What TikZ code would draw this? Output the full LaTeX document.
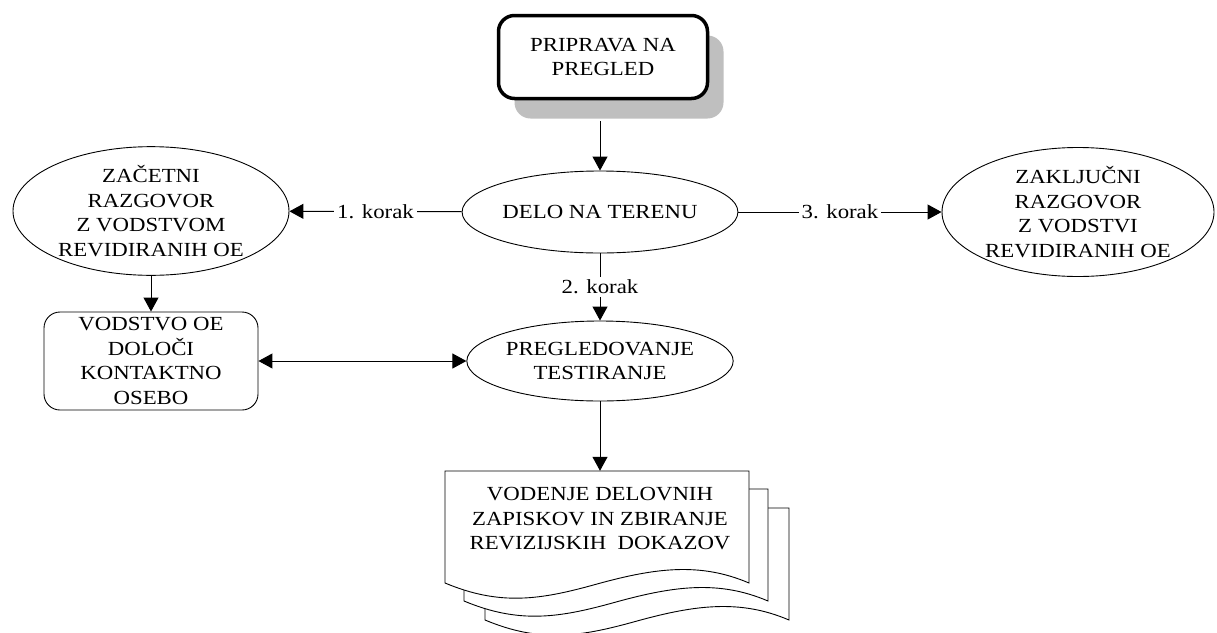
\documentclass[tikz,border=0pt]{standalone}
\usepackage{fontspec}
\setmainfont{Liberation Serif}[FakeStretch=1.14]
\usetikzlibrary{shapes.geometric, arrows.meta, shadows}
\tikzstyle{startbox} = [
    rectangle,
    rounded corners=16pt,
    minimum width=209pt,
    minimum height=83pt,
    line width=3.5pt,
    draw=black,
    fill=white,
    align=center,
    drop shadow={shadow xshift=16pt, shadow yshift=-20pt, fill=black!25, opacity=1}
]
\tikzstyle{talk} = [
    ellipse,
    inner sep=0pt,
    line width=0.9pt,
    draw=black,
    fill=white,
    align=center
]
\tikzstyle{task} = [
    rectangle,
    rounded corners=16pt,
    minimum width=214pt,
    minimum height=98pt,
    line width=0.9pt,
    draw=black,
    align=center
]
\tikzstyle{page} = [draw=black, line width=0.9pt, fill=white]
\tikzstyle{steplabel} = [fill=white, inner sep=3pt]
\tikzstyle{arrow} = [line width=1pt, ->, >={Triangle[length=14pt,width=15pt]}]
\begin{document}
\begin{tikzpicture}[x=1pt, y=-1pt, font=\fontsize{20}{24.5}\selectfont]
\useasboundingbox (0,0) rectangle (1217,632);

\node (prep) [startbox] at (603,57) {PRIPRAVA NA\\PREGLED};

\node (field) [talk, minimum width=256pt, minimum height=82pt] at (600,212)
{DELO NA TERENU};

\node (opening) [talk, minimum width=276pt, minimum height=126pt] at (151,211)
{ZAČETNI\\RAZGOVOR\\Z VODSTVOM\\REVIDIRANIH OE};

\node (closing) [talk, minimum width=272pt, minimum height=129pt] at (1078,212)
{ZAKLJUČNI\\RAZGOVOR\\Z VODSTVI\\REVIDIRANIH OE};

\node (contact) [task] at (151,361)
{VODSTVO OE\\DOLOČI\\KONTAKTNO\\OSEBO};

\node (review) [talk, minimum width=256pt, minimum height=80pt] at (600,361)
{PREGLEDOVANJE\\TESTIRANJE};

% stacked working papers
\foreach \dx/\dy in {40/37, 19/18, 0/0}
  \draw [page, shift={(\dx,\dy)}] (445,583) -- (445,471) -- (749,471) -- (749,583)
    .. controls (700,562) and (655,568) .. (597,584)
    .. controls (540,600) and (500,606) .. (445,583) -- cycle;

\node (papers) [minimum width=304pt, minimum height=96pt, inner sep=0pt, align=center] at (600,519)
{VODENJE DELOVNIH\\ZAPISKOV IN ZBIRANJE\\REVIZIJSKIH\ \ DOKAZOV};

\draw [arrow, shorten <=21pt] (field.north |- prep.south) -- (field.north);
\draw [arrow] (field) -- node[steplabel] {1. korak} (opening);
\draw [arrow] (field) -- node[steplabel] {3. korak} (closing);
\draw [arrow] (field) -- node[steplabel] {2. korak} (review);
\draw [arrow] (opening) -- (contact);
\draw [arrow, <->] (contact) -- (review);
\draw [arrow] (review) -- (papers);

\end{tikzpicture}
\end{document}
